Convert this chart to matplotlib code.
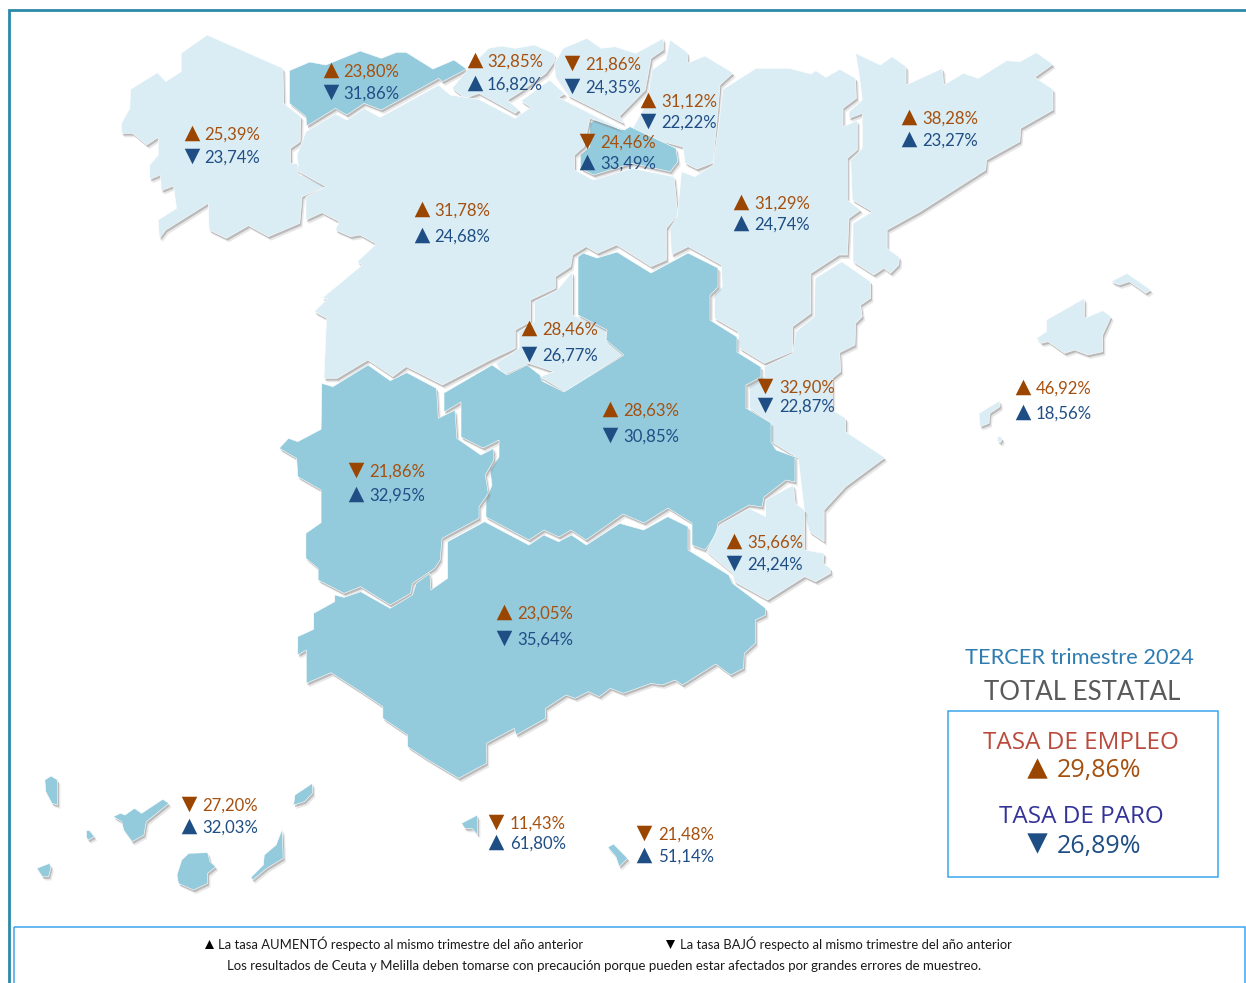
"""Mapa de tasas de empleo y paro por comunidad autónoma, tercer trimestre 2024."""

import matplotlib
matplotlib.use("Agg")
import matplotlib.patheffects as pe
import matplotlib.pyplot as plt
from matplotlib.patches import Polygon, Rectangle

OUTPUT_PATH = "out.png"
WIDTH, HEIGHT = 1246, 983

# ---------------------------------------------------------------------------
# Data
# ---------------------------------------------------------------------------
REGIONS = ["Galicia", "Asturias", "Cantabria", "Pais Vasco", "Navarra", "La Rioja",
           "Castilla y Leon", "Madrid", "Aragon", "Cataluna", "C. Valenciana", "Baleares",
           "Castilla-La Mancha", "Extremadura", "Murcia", "Andalucia", "Canarias",
           "Ceuta", "Melilla"]
EMPLEO = [25.39, 23.80, 32.85, 21.86, 31.12, 24.46, 31.78, 28.46, 31.29, 38.28, 32.90,
          46.92, 28.63, 21.86, 35.66, 23.05, 27.20, 11.43, 21.48]
PARO = [23.74, 31.86, 16.82, 24.35, 22.22, 33.49, 24.68, 26.77, 24.74, 23.27, 22.87,
        18.56, 30.85, 32.95, 24.24, 35.64, 32.03, 61.80, 51.14]
EMPLEO_SUBE = [1, 1, 1, 0, 1, 0, 1, 1, 1, 1, 0, 1, 1, 0, 1, 1, 0, 0, 0]
PARO_SUBE = [0, 0, 1, 0, 0, 1, 1, 0, 1, 1, 0, 1, 0, 1, 0, 0, 1, 1, 1]
TOTAL_EMPLEO = 29.86
TOTAL_PARO = 26.89

# ---------------------------------------------------------------------------
# Style
# ---------------------------------------------------------------------------
COLOR_LIGHT = "#dbedf4"
COLOR_DARK = "#93cbdd"
COLOR_EMPLEO = "#a5500f"
COLOR_EMPLEO_MARK = "#9a4500"
COLOR_PARO = "#1f4e85"
COLOR_FRAME = "#2b8aa8"
COLOR_BOX = "#3aa6ee"
FONT = "Lato"
FONT_PANEL = "Open Sans"

# Label anchor per region: marker x, text x, empleo y, paro y
LABEL_POS = {
    "Galicia": (192, 204, 133, 156), "Asturias": (331, 343, 70, 92),
    "Cantabria": (475, 487, 60, 83), "Pais Vasco": (572, 585, 63, 86),
    "Navarra": (648, 661, 100, 121), "La Rioja": (587, 600, 141, 162),
    "Castilla y Leon": (422, 434, 209, 235), "Madrid": (529, 542, 328, 354),
    "Aragon": (741, 754, 202, 223), "Cataluna": (909, 922, 117, 139),
    "C. Valenciana": (765, 779, 386, 405), "Baleares": (1023, 1036, 387, 412),
    "Castilla-La Mancha": (610, 623, 409, 435), "Extremadura": (356, 369, 470, 494),
    "Murcia": (734, 747, 541, 563), "Andalucia": (504, 517, 612, 638),
    "Canarias": (189, 202, 804, 826), "Ceuta": (496, 510, 822, 842),
    "Melilla": (644, 658, 833, 855),
}

# Outlines were traced on crops of the map: origin x, origin y, scale x, scale y
F1 = (100, 20, 2.613, 3)
F2 = (650, 30, 3.015, 3)
F3 = (270, 360, 2.703, 3)
F4 = (0, 760, 2.119, 3)
F0 = (0, 0, 1, 1)

SHAPES = {
    "Galicia": [(F1, [(212, 100), (280, 45), (478, 145), (480, 250), (525, 290), (523, 365),
                      (498, 385), (498, 430), (516, 430), (518, 462), (590, 500), (528, 530),
                      (522, 610), (440, 650), (388, 617), (330, 655), (285, 630), (283, 550),
                      (172, 630), (155, 655), (152, 600), (200, 565), (192, 498), (160, 512),
                      (158, 465), (130, 478), (130, 435), (152, 405), (152, 352), (122, 375),
                      (85, 340), (56, 340), (56, 310), (78, 265), (80, 208), (150, 158),
                      (172, 185), (212, 155)])],
    "Asturias": [(F1, [(495, 152), (548, 126), (590, 135), (680, 93), (735, 115), (775, 97),
                       (800, 97), (870, 147), (925, 120), (958, 147), (895, 185), (885, 175),
                       (735, 270), (690, 250), (645, 285), (615, 265), (540, 318), (538, 290),
                       (495, 250)])],
    "Cantabria": [(F1, [(920, 205), (960, 150), (1015, 85), (1050, 78), (1085, 85), (1135, 75),
                        (1185, 100), (1190, 120), (1165, 160), (1100, 215), (1065, 240),
                        (1095, 270), (1085, 280), (990, 220), (955, 235)])],
    "Pais Vasco": [(F1, [(1188, 130), (1210, 85), (1272, 55), (1310, 85), (1345, 80), (1400, 100),
                         (1472, 55), (1472, 90), (1440, 115), (1425, 210), (1358, 288),
                         (1368, 310), (1225, 228), (1190, 170)])],
    "Navarra": [(F0, [(670, 40), (687, 52), (688, 63), (705, 56), (733, 73), (720, 85), (718, 110),
                      (713, 163), (697, 169), (685, 163), (683, 147), (630, 133), (647, 103),
                      (652, 70), (666, 60)])],
    "La Rioja": [(F1, [(1280, 310), (1300, 295), (1370, 330), (1385, 320), (1505, 385), (1510, 425),
                       (1490, 455), (1390, 430), (1290, 465), (1255, 445), (1255, 405), (1280, 380)])],
    "Castilla y Leon": [(F1, [(538, 335), (615, 282), (645, 300), (690, 265), (732, 292), (885, 195),
                              (915, 225), (990, 238), (1085, 295), (1125, 262), (1100, 243),
                              (1175, 180), (1215, 222), (1198, 232), (1365, 330), (1280, 295),
                              (1265, 380), (1240, 405), (1240, 450), (1290, 480), (1390, 445),
                              (1500, 470), (1510, 585), (1480, 625), (1480, 720), (1440, 740),
                              (1350, 675), (1300, 700), (1270, 680), (1235, 705), (1230, 740),
                              (1190, 770), (1190, 805), (1125, 840), (1125, 905), (1085, 930),
                              (1085, 985), (1020, 1020), (895, 1095), (800, 1040), (765, 1070),
                              (700, 1020), (620, 1075), (585, 1075), (592, 895), (560, 875),
                              (595, 835), (580, 835), (685, 735), (672, 725), (722, 672),
                              (680, 645), (655, 650), (615, 630), (625, 605), (580, 578),
                              (538, 600), (538, 530), (590, 500), (520, 455), (515, 405)])],
    "Madrid": [(F1, [(1195, 810), (1235, 755), (1235, 885), (1325, 930), (1322, 960), (1370, 1000),
                     (1215, 1115), (1150, 1070), (1185, 1055), (1120, 1030), (1055, 1065),
                     (1035, 1030), (1095, 985), (1095, 935), (1135, 905), (1135, 845)])],
    "Aragon": [(F2, [(320, 115), (420, 115), (485, 132), (500, 122), (530, 142), (572, 118),
                     (620, 145), (622, 205), (582, 235), (582, 290), (625, 272), (625, 360),
                     (595, 385), (595, 510), (635, 540), (600, 565), (595, 675), (570, 675),
                     (485, 730), (485, 850), (430, 890), (430, 965), (345, 1000), (270, 955),
                     (265, 905), (195, 865), (195, 790), (218, 770), (215, 705), (115, 650),
                     (65, 675), (60, 595), (82, 560), (95, 425), (135, 440), (190, 405),
                     (205, 300), (220, 178)])],
    "Cataluna": [(F2, [(620, 70), (695, 105), (730, 80), (772, 110), (772, 165), (882, 115),
                       (885, 165), (945, 130), (990, 145), (1075, 92), (1115, 95), (1165, 68),
                       (1215, 103), (1160, 142), (1215, 178), (1215, 240), (1118, 295),
                       (1115, 335), (1015, 390), (1012, 420), (815, 545), (715, 600), (715, 655),
                       (752, 682), (750, 705), (725, 730), (705, 715), (675, 735), (612, 695),
                       (612, 580), (670, 545), (610, 510), (605, 390), (640, 355), (640, 250),
                       (600, 265), (600, 245), (640, 210), (630, 130)])],
    "C. Valenciana": [(F2, [(578, 695), (665, 755), (665, 805), (635, 825), (640, 860), (620, 880),
                            (618, 945), (572, 968), (575, 1025), (550, 1045), (550, 1140),
                            (590, 1165), (590, 1205), (708, 1283), (590, 1370), (525, 1440),
                            (525, 1535), (480, 1505), (465, 1440), (447, 1285), (365, 1235),
                            (365, 1178), (300, 1135), (300, 1065), (345, 1040), (345, 1010),
                            (430, 970), (440, 905), (495, 860), (498, 745)])],
    "Murcia": [(F3, [(1180, 575), (1215, 495), (1295, 445), (1340, 470), (1340, 420), (1415, 375),
                     (1420, 430), (1445, 450), (1445, 570), (1498, 580), (1495, 610), (1515, 625),
                     (1515, 640), (1475, 665), (1445, 650), (1345, 720), (1255, 665), (1250, 640)])],
    # runs across three crops, so it is given in map pixels
    "Castilla-La Mancha": [(F0, [(486, 517), (486, 500), (492, 485), (490, 470), (499, 457),
                                 (499, 440), (483, 448), (461, 437), (461, 402), (444, 412),
                                 (444, 393), (492, 365), (507, 375), (527, 365), (540, 375),
                                 (542, 381), (564, 392), (624, 355), (606, 340), (607, 330),
                                 (578, 315), (578, 257), (583, 253), (597, 258), (617, 252),
                                 (651, 273), (688, 253), (718, 268), (718, 287), (710, 295),
                                 (710, 320), (737, 337), (737, 352), (761, 367), (761, 377),
                                 (746, 385), (746, 408), (771, 423), (771, 442), (776, 450),
                                 (795, 457), (795, 482), (786, 480), (764, 497), (762, 507),
                                 (749, 505), (718, 523), (716, 535), (705, 550), (692, 545),
                                 (692, 523), (668, 508), (644, 523), (623, 514), (586, 540),
                                 (571, 530), (559, 537), (544, 530), (529, 540)])],
    "Extremadura": [(F3, [(140, 70), (170, 80), (265, 15), (325, 62), (370, 38), (450, 85),
                          (455, 175), (500, 150), (505, 235), (570, 285), (605, 265), (605, 300),
                          (582, 345), (590, 400), (565, 440), (565, 475), (465, 535), (460, 600),
                          (445, 625), (385, 670), (380, 700), (325, 735), (245, 680), (200, 700),
                          (130, 660), (130, 625), (97, 595), (97, 520), (138, 488), (138, 390),
                          (75, 350), (72, 295), (25, 265), (50, 235), (75, 245), (138, 208)])],
    "Andalucia": [(F3, [(580, 485), (700, 555), (740, 525), (780, 545), (815, 525), (855, 555),
                        (945, 490), (1010, 510), (1075, 470), (1130, 500), (1130, 570), (1240, 645),
                        (1250, 670), (1340, 745), (1340, 765), (1312, 780), (1312, 850), (1282, 880),
                        (1280, 925), (1245, 945), (1205, 912), (1115, 975), (1095, 960), (1060, 975),
                        (1030, 970), (955, 1000), (920, 985), (890, 1010), (860, 995), (825, 1015),
                        (800, 1005), (745, 1045), (745, 1075), (665, 1125), (660, 1105), (585, 1150),
                        (585, 1210), (510, 1255), (420, 1195), (372, 1160), (372, 1125), (305, 1075),
                        (305, 1040), (245, 995), (165, 938), (98, 970), (98, 870), (75, 885),
                        (75, 830), (118, 808), (118, 760), (175, 725), (175, 705), (200, 712),
                        (245, 695), (325, 745), (385, 705), (395, 670), (432, 640), (435, 690),
                        (480, 655), (480, 545)])],
    "Baleares": [(F2, [(1310, 805), (1310, 865), (1365, 842), (1390, 860), (1365, 915), (1365, 965),
                       (1320, 975), (1280, 960), (1250, 970), (1200, 935), (1180, 940), (1165, 925),
                       (1195, 905), (1195, 870)]),
                 (F2, [(1390, 755), (1438, 730), (1510, 780), (1495, 790), (1445, 755), (1415, 765)]),
                 (F2, [(992, 1150), (1055, 1112), (1055, 1130), (1025, 1150), (1022, 1180), (995, 1190)]),
                 (F2, [(1048, 1222), (1056, 1218), (1062, 1228), (1056, 1238), (1048, 1234)])],
    "Canarias": [(F4, [(95, 60), (108, 48), (122, 60), (122, 135), (110, 130), (97, 95)]),
                 (F4, [(240, 170), (255, 160), (265, 165), (285, 145), (300, 160), (345, 118),
                       (358, 130), (310, 185), (305, 225), (280, 245), (262, 210), (258, 185)]),
                 (F4, [(183, 212), (190, 212), (200, 230), (187, 240), (183, 232)]),
                 (F4, [(78, 325), (105, 310), (108, 322), (103, 350), (90, 350)]),
                 (F4, [(400, 280), (440, 278), (445, 305), (457, 320), (440, 340), (440, 370),
                       (410, 390), (378, 370), (375, 345), (385, 300)]),
                 (F4, [(598, 208), (600, 295), (565, 325), (535, 360), (532, 352), (558, 315),
                       (560, 285), (585, 255)]),
                 (F4, [(662, 70), (662, 100), (645, 125), (622, 135), (625, 105)])],
    "Ceuta": [(F4, [(978, 190), (1012, 165), (1012, 225), (1000, 205), (985, 205)])],
    "Melilla": [(F4, [(1288, 262), (1300, 252), (1330, 295), (1312, 320), (1305, 290)])],
}


def to_pixels(frame, points):
    x0, y0, kx, ky = frame
    return [(x0 + x / kx, y0 + y / ky) for x, y in points]


def add_region(ax, points, color):
    """Region outline with a soft bevel shadow under its lower edges."""
    shadow = [
        pe.SimplePatchShadow(offset=(2.0, -2.8), shadow_rgbFace="#8a8a8a", alpha=0.2),
        pe.SimplePatchShadow(offset=(1.0, -1.6), shadow_rgbFace="#777777", alpha=0.4),
        pe.Normal(),
    ]
    ax.add_patch(Polygon(points, closed=True, facecolor=color, edgecolor="white", linewidth=0.4,
                         zorder=2, path_effects=shadow))


def add_rate(ax, mark_x, text_x, y, value, up, color, mark_color, size=12.1, mark_size=125, font=FONT):
    ax.scatter([mark_x], [y], marker="^" if up else "v", s=mark_size, color=mark_color,
               linewidths=0, zorder=4)
    ax.text(text_x, y, f"{value:.2f}%".replace(".", ","), ha="left", va="center_baseline",
            fontsize=size, color=color, family=font, zorder=5)


def main() -> None:
    fig = plt.figure(figsize=(WIDTH / 100, HEIGHT / 100), dpi=100)
    ax = fig.add_axes([0, 0, 1, 1])
    ax.set_xlim(0, WIDTH)
    ax.set_ylim(HEIGHT, 0)
    ax.axis("off")

    # ── Page frame ───────────────────────────────────────────────────────────
    ax.plot([9, 9, WIDTH], [HEIGHT, 10, 10], color=COLOR_FRAME, lw=2, zorder=1,
            solid_joinstyle="miter")
    ax.add_patch(Rectangle((13.5, 927), 1231, 70, fill=False, edgecolor=COLOR_BOX, lw=1.1, zorder=1))
    ax.add_patch(Rectangle((947.5, 710.5), 270, 166, fill=False, edgecolor=COLOR_BOX, lw=1.1, zorder=1))

    # ── Regions ──────────────────────────────────────────────────────────────
    for name, paro in zip(REGIONS, PARO):
        color = COLOR_DARK if paro > TOTAL_PARO else COLOR_LIGHT
        for frame, points in SHAPES[name]:
            add_region(ax, to_pixels(frame, points), color)

    # ── Rates ────────────────────────────────────────────────────────────────
    for name, emp, paro, emp_up, paro_up in zip(REGIONS, EMPLEO, PARO, EMPLEO_SUBE, PARO_SUBE):
        mark_x, text_x, y_emp, y_paro = LABEL_POS[name]
        add_rate(ax, mark_x, text_x, y_emp, emp, emp_up, COLOR_EMPLEO, COLOR_EMPLEO_MARK)
        add_rate(ax, mark_x, text_x, y_paro, paro, paro_up, COLOR_PARO, COLOR_PARO)

    # ── Total panel ──────────────────────────────────────────────────────────
    ax.text(1079, 658, "TERCER trimestre 2024", ha="center", va="center", fontsize=15.7,
            color="#2e7cb0", family=FONT)
    ax.text(1082, 692, "TOTAL ESTATAL", ha="center", va="center", fontsize=18.6,
            color="#595959", family=FONT)
    ax.text(1081, 743, "TASA DE EMPLEO", ha="center", va="center", fontsize=17.5,
            color="#b94a3c", family=FONT_PANEL)
    add_rate(ax, 1037, 1057, 768, TOTAL_EMPLEO, True, COLOR_EMPLEO, COLOR_EMPLEO_MARK,
             size=18, mark_size=215, font=FONT_PANEL)
    ax.text(1081, 817, "TASA DE PARO", ha="center", va="center", fontsize=17.5,
            color="#333399", family=FONT_PANEL)
    add_rate(ax, 1037, 1057, 843, TOTAL_PARO, False, COLOR_PARO, COLOR_PARO,
             size=18, mark_size=215, font=FONT_PANEL)

    # ── Footer ───────────────────────────────────────────────────────────────
    ax.scatter([209], [944], marker="^", s=42, color="black", linewidths=0, zorder=4)
    ax.text(218, 944, "La tasa AUMENTÓ respecto al mismo trimestre del año anterior", ha="left",
            va="center", fontsize=9.4, color="#1a1a1a", family=FONT)
    ax.scatter([670], [944], marker="v", s=42, color="black", linewidths=0, zorder=4)
    ax.text(680, 944, "La tasa BAJÓ respecto al mismo trimestre del año anterior", ha="left",
            va="center", fontsize=9.4, color="#1a1a1a", family=FONT)
    ax.text(604, 966, "Los resultados de Ceuta y Melilla deben tomarse con precaución porque "
            "pueden estar afectados por grandes errores de muestreo.", ha="center", va="center",
            fontsize=9.5, color="#1a1a1a", family=FONT)

    fig.savefig(OUTPUT_PATH, dpi=100, facecolor="white")
    plt.close(fig)


if __name__ == "__main__":
    main()
